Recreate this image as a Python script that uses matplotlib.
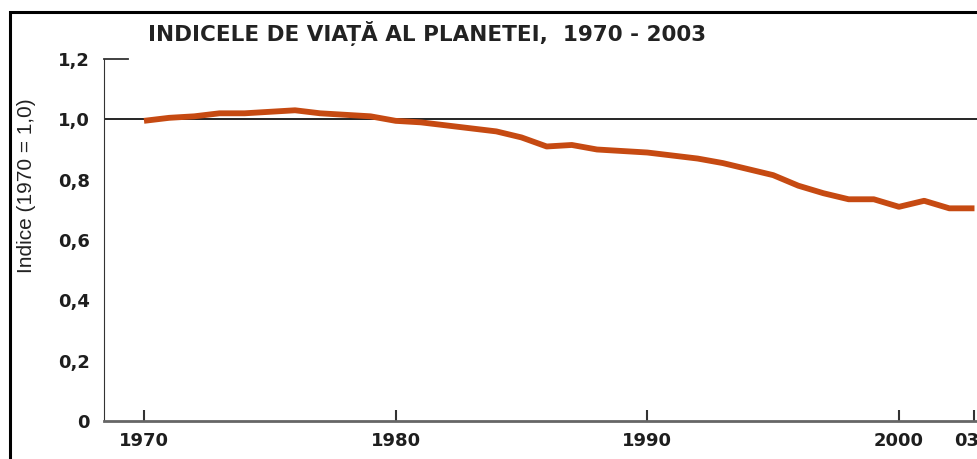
import matplotlib.pyplot as plt
import matplotlib.transforms as mtransforms
from matplotlib.patches import Rectangle

plt.rcParams['font.family'] = ['Liberation Sans', 'DejaVu Sans']

years = list(range(1970, 2004))
index = [0.995, 1.005, 1.01, 1.02, 1.02, 1.025, 1.03, 1.02, 1.015, 1.01,
         0.995, 0.99, 0.98, 0.97, 0.96, 0.94, 0.91, 0.915, 0.90, 0.895,
         0.89, 0.88, 0.87, 0.855, 0.835, 0.815, 0.78, 0.755, 0.735, 0.735,
         0.71, 0.73, 0.705, 0.705]
xticks = [1970, 1980, 1990, 2000, 2003]
xlabels = ["1970", "1980", "1990", "2000", "03"]
yticks = [0, 0.2, 0.4, 0.6, 0.8, 1.0, 1.2]
ylabels = ["0", "0,2", "0,4", "0,6", "0,8", "1,0", "1,2"]

fig = plt.figure(figsize=(9.77, 4.59), dpi=100)
ax = fig.add_axes([104 / 977, 38 / 459, 1 - 104 / 977, 362 / 459])

# cadrul imaginii
fig.patches.append(Rectangle((10 / 977, -0.1), 1.2, 0.1 + 447 / 459,
                             transform=fig.transFigure, fill=False,
                             edgecolor="black", linewidth=2.2))

ax.axhline(1.0, color="black", linewidth=1.2, zorder=1)
ax.plot(years, index, color="#c64a12", linewidth=4.2, solid_capstyle="butt", zorder=3)

ax.set_xlim(1968.41, 2003.1)
ax.set_ylim(0, 1.2)
ax.spines["top"].set_visible(False)
ax.spines["right"].set_visible(False)
ax.spines["left"].set_bounds(0, 1.2)
ax.spines["left"].set_color("#333333")
ax.spines["bottom"].set_color("#666666")
ax.spines["bottom"].set_linewidth(2)
# mica linie la 1,2
ax.plot([1968.41, 1969.36], [1.2, 1.2], color="#333333", linewidth=1.3, clip_on=False)

tick_font = dict(family="DejaVu Sans", fontsize=13, fontweight="bold", color="#1e1e1e")
ax.set_xticks(xticks)
ax.set_xticklabels(xlabels, **tick_font)
ax.tick_params(axis="x", direction="in", length=8, width=1.5, pad=8, color="#333333")
ax.set_yticks(yticks)
ax.set_yticklabels(ylabels, **tick_font)
ax.tick_params(axis="y", length=0, pad=10)

# "03" putin mutat la stanga, ca in original
last = ax.get_xticklabels()[-1]
last.set_transform(last.get_transform() + mtransforms.ScaledTranslation(-0.08, 0, fig.dpi_scale_trans))

ax.set_ylabel("Indice (1970 = 1,0)", fontsize=15, color="#222222")
ax.yaxis.set_label_coords(-0.078, (421 - 186) / 362)

fig.text(148 / 977, 1 - 33 / 459, "INDICELE DE VIAȚĂ AL PLANETEI,  1970 - 2003",
         family="DejaVu Sans", fontsize=15.5, fontweight="bold", color="#222222",
         va="center", ha="left")

fig.savefig("out.png", dpi=100)
